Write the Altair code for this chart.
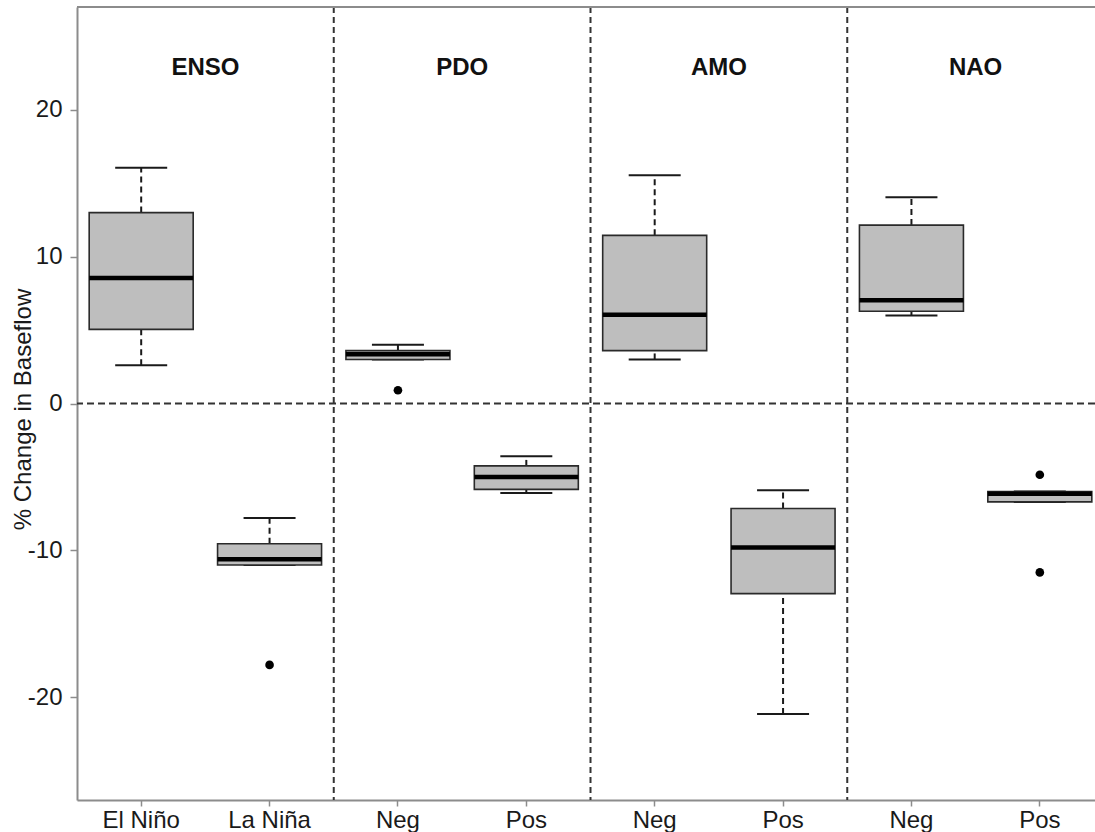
import altair as alt
import pandas as pd

# ---- data ----
cats = ["El Niño", "La Niña", "PDO|Neg", "PDO|Pos", "AMO|Neg", "AMO|Pos", "NAO|Neg", "NAO|Pos"]
whisker_low = [2.6, -11.0, 3.0, -6.1, 3.0, -21.15, 6.0, -6.7]
q1 = [5.05, -11.0, 3.0, -5.85, 3.6, -12.95, 6.28, -6.7]
median = [8.55, -10.6, 3.35, -5.0, 6.05, -9.8, 7.03, -6.15]
q3 = [13.0, -9.55, 3.6, -4.25, 11.45, -7.15, 12.15, -6.0]
whisker_high = [16.05, -7.8, 4.0, -3.6, 15.55, -5.9, 14.05, -6.0]

outlier_cat = ["La Niña", "PDO|Neg", "NAO|Pos", "NAO|Pos"]
outlier_val = [-17.8, 0.9, -4.85, -11.5]

groups = ["ENSO", "PDO", "AMO", "NAO"]
group_anchor = ["El Niño", "PDO|Neg", "AMO|Neg", "NAO|Neg"]
dividers = ["La Niña", "PDO|Pos", "AMO|Pos"]

y_ticks = [-20, -10, 0, 10, 20]
y_domain = [-27, 27]

box_df = pd.DataFrame({"cat": cats, "lo": whisker_low, "q1": q1, "med": median,
                       "q3": q3, "hi": whisker_high})
out_df = pd.DataFrame({"cat": outlier_cat, "val": outlier_val})
grp_df = pd.DataFrame({"cat": group_anchor, "grp": groups})
div_df = pd.DataFrame({"cat": dividers})

FONT = "Liberation Sans"
AXIS_GRAY = "#8c8c8c"
INK = "#1a1a1a"

x_scale = alt.Scale(domain=cats, range=[0, 1027], paddingInner=0, paddingOuter=0)
x_axis = alt.Axis(
    title=None,
    labelExpr="indexof(datum.label, '|') >= 0 ? split(datum.label, '|')[1] : datum.label",
    labelFont=FONT, labelFontSize=24, labelColor=INK, labelAngle=0,
    labelPadding=2, tickSize=6, tickColor=AXIS_GRAY, tickWidth=1.5,
    domainColor=AXIS_GRAY, domainWidth=2, grid=False,
)
y_scale = alt.Scale(domain=y_domain, nice=False, zero=False)
y_axis = alt.Axis(
    title="% Change in Baseflow", values=y_ticks,
    labelExpr="datum.value + ''",
    labelFont=FONT, labelFontSize=24, labelColor=INK, labelPadding=8,
    tickSize=7, tickColor=AXIS_GRAY, tickWidth=1.5,
    domainColor=AXIS_GRAY, domainWidth=2, grid=False,
    titleFont=FONT, titleFontSize=24, titleFontWeight="normal", titleColor=INK,
    titleX=-47, titleY=402, titleAlign="center", titleBaseline="alphabetic",
)


def X(**kw):
    return alt.X("cat:N", scale=x_scale, sort=cats, axis=x_axis, **kw)


def Y(field):
    return alt.Y(field, scale=y_scale, axis=y_axis)


base = alt.Chart(box_df)

zero_line = alt.Chart(pd.DataFrame({"v": [0]})).mark_rule(
    color="#333333", strokeWidth=2, strokeDash=[7, 4]
).encode(y=Y("v:Q"))

top_line = alt.Chart(pd.DataFrame({"v": [y_domain[1]]})).mark_rule(
    color=AXIS_GRAY, strokeWidth=2
).encode(y=Y("v:Q"))

div_lines = alt.Chart(div_df).mark_rule(
    color="#333333", strokeWidth=2, strokeDash=[6, 4]
).encode(x=X(bandPosition=1))

whisk_up = base.mark_rule(color=INK, strokeWidth=2, strokeDash=[6, 4]).encode(
    x=X(), y=Y("q3:Q"), y2="hi:Q")
whisk_dn = base.mark_rule(color=INK, strokeWidth=2, strokeDash=[6, 4]).encode(
    x=X(), y=Y("lo:Q"), y2="q1:Q")

cap_up = base.mark_tick(size=52, thickness=2, color=INK, opacity=1).encode(x=X(), y=Y("hi:Q"))
cap_dn = base.mark_tick(size=52, thickness=2, color=INK, opacity=1).encode(x=X(), y=Y("lo:Q"))

boxes = base.mark_bar(size=104, fill="#bebebe", stroke="#2a2a2a", strokeWidth=1.6,
                      opacity=1).encode(x=X(), y=Y("q1:Q"), y2="q3:Q")

med = base.mark_tick(size=104, thickness=4.5, color="#000000", opacity=1).encode(
    x=X(), y=Y("med:Q"))

outs = alt.Chart(out_df).mark_circle(size=75, color="#000000", opacity=1).encode(
    x=X(), y=Y("val:Q"))

titles = alt.Chart(grp_df).mark_text(
    font=FONT, fontSize=24, fontWeight="bold", color="#111111", baseline="middle"
).encode(x=X(bandPosition=1), y=alt.value(61), text="grp:N")

chart = alt.layer(
    zero_line, div_lines, whisk_up, whisk_dn, cap_up, cap_dn, boxes, med, outs, titles, top_line
).properties(
    width=1018, height=793,
    padding={"left": 77, "top": 7, "right": 0, "bottom": 32},
    autosize=alt.AutoSizeParams(type="none"),
    background="white",
).configure_view(stroke=None)

chart.save("out.html", embed_options={"renderer": "svg", "actions": False})
